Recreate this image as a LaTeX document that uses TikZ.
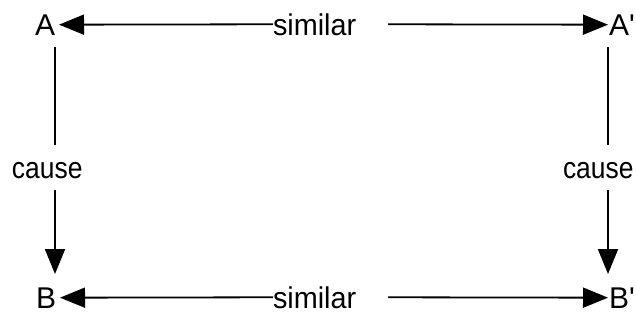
\documentclass[tikz,border=0pt]{standalone}
\usepackage{fontspec}
\setmainfont{Liberation Sans}
\usetikzlibrary{arrows.meta}
\begin{document}
\begin{tikzpicture}[x=1pt,y=-1pt,
 lbl/.style={font=\fontsize{30}{32}\selectfont, inner sep=0pt, outer sep=0pt, anchor=base west},
 conn/.style={line width=1.8pt, -{Triangle[length=25pt,width=20pt]}},
 seg/.style={line width=1.8pt}]
\useasboundingbox (0,0) rectangle (636,325);
\node[lbl] (A) at (35,35) {A};
\node[lbl] (Ap) at (609,35) {A\textquotesingle};
\node[lbl] (B) at (36,308) {B};
\node[lbl] (Bp) at (609,308) {B\textquotesingle};
\node[lbl] (s1) at (273,35) {\scalebox{0.96}[1]{similar}};
\node[lbl] (s2) at (273,308) {\scalebox{0.96}[1]{similar}};
\node[lbl] (c1) at (12,178) {\scalebox{0.88}[1]{cause}};
\node[lbl] (c2) at (563,178) {\scalebox{0.88}[1]{cause}};
% horizontal connectors
\draw[conn] (s1.west) -- ([xshift=4pt]A.east);
\draw[conn] ([xshift=32pt]s1.east) -- ([xshift=-1pt]Ap.west);
\draw[conn] (s2.west) -- ([xshift=4pt]B.east);
\draw[conn] ([xshift=32pt]s2.east) -- ([xshift=-1pt]Bp.west);
% vertical connectors
\coordinate (l1) at (55,47); \coordinate (l2) at (55,145);
\coordinate (l3) at (55,190); \coordinate (l4) at (55,274);
\coordinate (r1) at (608,47); \coordinate (r2) at (608,145);
\coordinate (r3) at (608,190); \coordinate (r4) at (608,274);
\draw[seg] (l1) -- (l2);
\draw[conn] (l3) -- (l4);
\draw[seg] (r1) -- (r2);
\draw[conn] (r3) -- (r4);
\end{tikzpicture}
\end{document}
